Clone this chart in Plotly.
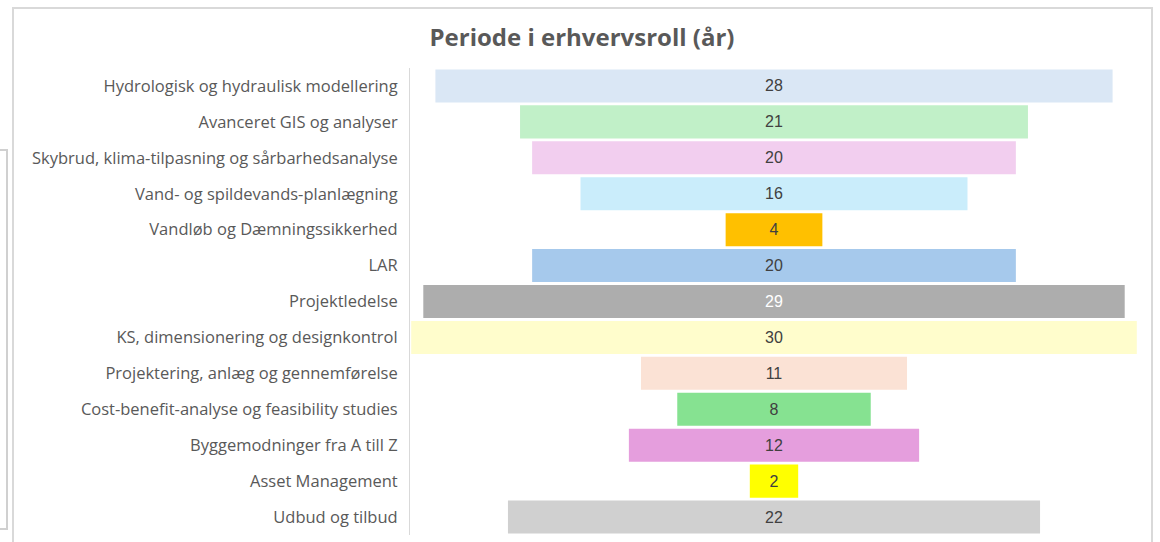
import plotly.graph_objects as go

categories = [
    "Hydrologisk og hydraulisk modellering",
    "Avanceret GIS og analyser",
    "Skybrud, klima-tilpasning og sårbarhedsanalyse",
    "Vand- og spildevands-planlægning",
    "Vandløb og Dæmningssikkerhed",
    "LAR",
    "Projektledelse",
    "KS, dimensionering og designkontrol",
    "Projektering, anlæg og gennemførelse",
    "Cost-benefit-analyse og feasibility studies",
    "Byggemodninger fra A till Z",
    "Asset Management",
    "Udbud og tilbud",
]
years = [28, 21, 20, 16, 4, 20, 29, 30, 11, 8, 12, 2, 22]
bar_colors = [
    "#DAE7F5", "#C1F0C8", "#F2CEEF", "#CAEDFB", "#FFC000", "#A6C9EC", "#ADADAD",
    "#FFFDCC", "#FBE2D5", "#86E291", "#E59EDD", "#FFFF00", "#D0D0D0",
]
text_colors = ["#404040"] * len(years)
text_colors[6] = "#FFFFFF"

fig = go.Figure(go.Funnel(
    y=categories,
    x=years,
    marker=dict(color=bar_colors, line=dict(width=0)),
    textinfo="value",
    textposition="inside",
    insidetextanchor="middle",
    textfont=dict(family="Liberation Sans, Arial", size=16, color=text_colors),
    connector=dict(visible=False),
    hoverinfo="y+x",
))

# paper coordinate helpers (plot area: x 410..1138, y 68..535)
L, R, T, B = 410, 1138, 68, 535
def px(x):
    return (x - L) / (R - L)
def py(y):
    return (B - y) / (B - T)

fig.update_layout(
    width=1160, height=542,
    margin=dict(l=L, r=1160 - R, t=T, b=542 - B),
    paper_bgcolor="white", plot_bgcolor="white",
    funnelgap=0.08,
    showlegend=False,
    title=dict(
        text="<b>Periode i erhvervsroll (år)</b>",
        x=px(582), xref="paper", xanchor="center",
        y=1 - 38 / 542, yanchor="middle",
        font=dict(family="Open Sans, Roboto", size=24, color="#595959"),
    ),
    xaxis=dict(visible=False, range=[-15.05, 15.05]),
    yaxis=dict(
        showline=True, linecolor="#D9D9D9", linewidth=1,
        showgrid=False, ticks="", ticklabelstandoff=8,
        tickfont=dict(family="Open Sans, Noto Sans", size=16.5, color="#595959"),
    ),
    shapes=[
        # card border
        dict(type="rect", xref="paper", yref="paper",
             x0=px(13), x1=px(1152), y0=py(560), y1=py(8),
             line=dict(color="#D9D9D9", width=2), fillcolor="rgba(0,0,0,0)", layer="below"),
        # partial box on the left edge
        dict(type="rect", xref="paper", yref="paper",
             x0=px(-20), x1=px(7), y0=py(529), y1=py(150),
             line=dict(color="#D0D0D0", width=2), fillcolor="rgba(0,0,0,0)", layer="below"),
    ],
)

fig.write_html("out.html", config={"displayModeBar": False},
               post_script="document.body.style.margin='0';")
